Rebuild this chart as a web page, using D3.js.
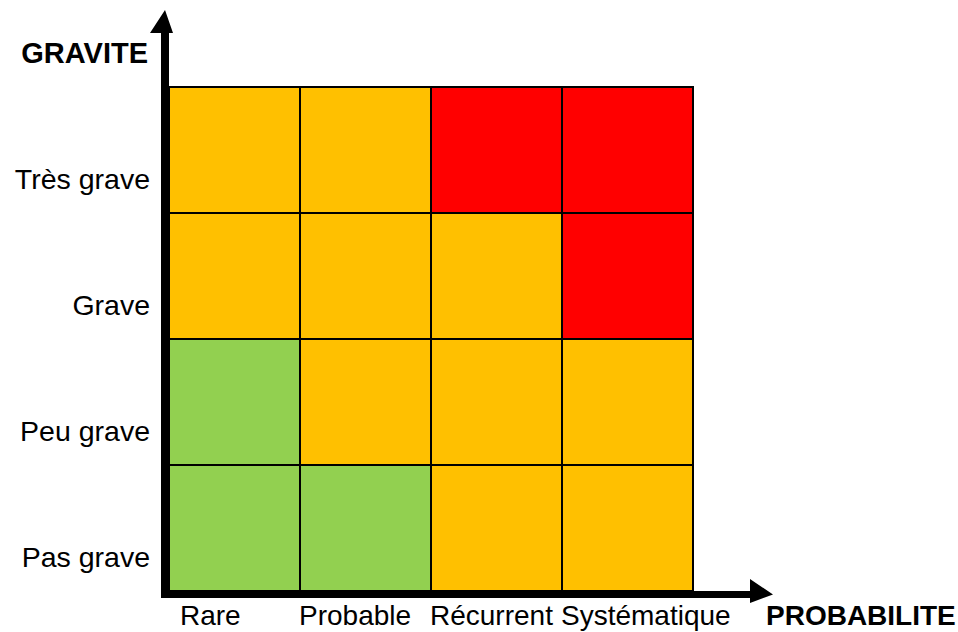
<!DOCTYPE html>
<html>
<head>
<meta charset="utf-8">
<script src="https://cdn.jsdelivr.net/npm/d3@7"></script>
<style>
  body { margin: 0; background: #fff; }
  text { font-family: Arial, "Liberation Sans", sans-serif; fill: #000; }
</style>
</head>
<body>
<svg id="chart" width="958" height="632"></svg>
<script>
// probability categories (x), severity categories (y, bottom to top)
const probabilites = ['Rare', 'Probable', 'Récurrent', 'Systématique'];
const gravites = ['Pas grave', 'Peu grave', 'Grave', 'Très grave'];

// risk level per cell: rows follow gravites, columns follow probabilites
// 1 = faible, 2 = moyen, 3 = élevé
const niveaux = [
  [1, 1, 2, 2], // Pas grave
  [1, 2, 2, 2], // Peu grave
  [2, 2, 2, 3], // Grave
  [2, 2, 3, 3]  // Très grave
];

const axisTitles = { x: 'PROBABILITE', y: 'GRAVITE' };

const svg = d3.select('#chart');

const x = d3.scaleBand()
  .domain(probabilites)
  .range([169, 693]);

const y = d3.scaleBand()
  .domain(gravites.slice().reverse())
  .range([87, 591]);

const color = d3.scaleOrdinal()
  .domain([1, 2, 3])
  .range(['#92D050', '#FFC000', '#FF0000']);

const cells = [];
gravites.forEach((g, i) => {
  probabilites.forEach((p, j) => {
    cells.push({ gravite: g, proba: p, niveau: niveaux[i][j] });
  });
});

svg.append('g')
  .selectAll('rect')
  .data(cells)
  .join('rect')
  .attr('x', d => x(d.proba))
  .attr('y', d => y(d.gravite))
  .attr('width', x.bandwidth())
  .attr('height', y.bandwidth())
  .attr('fill', d => color(d.niveau))
  .attr('stroke', '#000')
  .attr('stroke-width', 2);

// axes drawn as thick arrows along the grid edges
const [x0, x1] = x.range();
const [y0, y1] = y.range();
const bar = 8;

// vertical arrow
svg.append('path')
  .attr('fill', '#000')
  .attr('d', [
    `M${x0 - bar},${y1 + 7}`,
    `L${x0 - bar},33`,
    `L${x0 - bar - 11},33`,
    `L${x0 - bar / 2},10`,
    `L${x0 + 4},33`,
    `L${x0},33`,
    `L${x0},${y1 + 7}`,
    'Z'
  ].join(''));

// horizontal arrow
svg.append('path')
  .attr('fill', '#000')
  .attr('d', [
    `M${x0 - bar},${y1}`,
    `L${750},${y1}`,
    `L${750},${y1 - 12}`,
    `L${773},${y1 + 3.5}`,
    `L${750},${y1 + 12}`,
    `L${750},${y1 + 7}`,
    `L${x0 - bar},${y1 + 7}`,
    'Z'
  ].join(''));

// severity labels
svg.append('g')
  .selectAll('text')
  .data(gravites)
  .join('text')
  .attr('x', 150)
  .attr('y', d => y(d) + y.bandwidth() * 0.81)
  .attr('text-anchor', 'end')
  .style('font-size', '28.5px')
  .text(d => d);

// probability labels
svg.append('g')
  .selectAll('text')
  .data(probabilites)
  .join('text')
  .attr('x', (d, i) => x(d) + (i === 0 ? 11 : -1))
  .attr('y', 625)
  .attr('text-anchor', 'start')
  .style('font-size', '28px')
  .text(d => d);

// axis titles
svg.append('text')
  .attr('x', 148)
  .attr('y', 63)
  .attr('text-anchor', 'end')
  .style('font-size', '29px')
  .style('font-weight', 'bold')
  .text(axisTitles.y);

svg.append('text')
  .attr('x', 766)
  .attr('y', 625)
  .style('font-size', '28px')
  .style('font-weight', 'bold')
  .text(axisTitles.x);
</script>
</body>
</html>
